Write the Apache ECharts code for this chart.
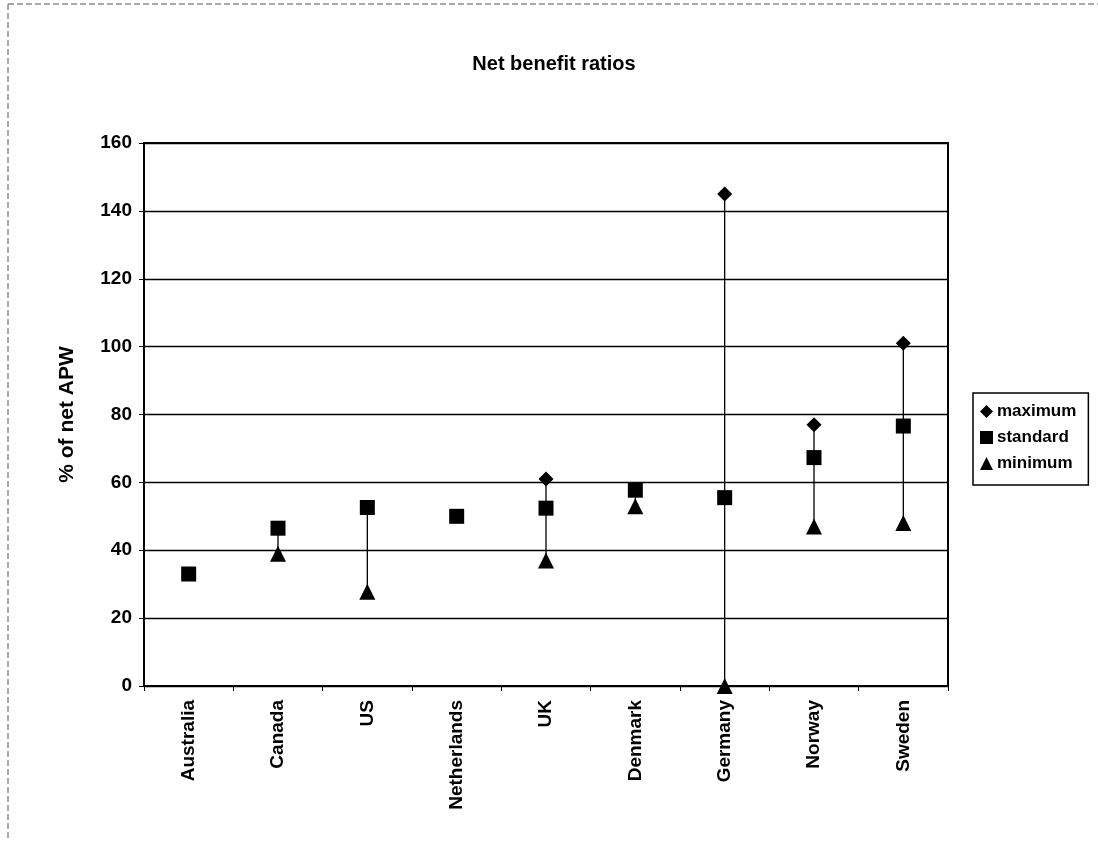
<!DOCTYPE html>
<html><head><meta charset="utf-8">
<script src="https://cdn.jsdelivr.net/npm/echarts@6/dist/echarts.min.js"></script>
<style>html,body{margin:0;padding:0;background:#fff}#c{width:1098px;height:841px}</style>
</head><body><div id="c"></div>
<script>
const categories = ['Australia','Canada','US','Netherlands','UK','Denmark','Germany','Norway','Sweden'];
const maximum  = [null, null, null, null, 61, null, 145, 77, 101];
const standard = [33, 46.5, 52.6, 50, 52.4, 57.7, 55.5, 67.3, 76.6];
const minimum  = [null, 39, 27.8, null, 37, 53, 0, 47, 48];
const yTicks = [0, 20, 40, 60, 80, 100, 120, 140, 160];

const ranges = categories.map((c, i) => {
  const vals = [maximum[i], standard[i], minimum[i]].filter(v => v !== null);
  return [i, Math.min(...vals), Math.max(...vals)];
});

const chart = echarts.init(document.getElementById('c'));
const font = 'Arial, "Liberation Sans", sans-serif';
chart.setOption({
  animation: false,
  backgroundColor: '#fff',
  title: { text: 'Net benefit ratios', left: 549, top: 49, textAlign: 'center',
    textStyle: { fontFamily: font, fontSize: 20, fontWeight: 'bold', color: '#000' } },
  grid: { left: 144, right: 150, top: 143, bottom: 155, show: true, borderColor: '#000', borderWidth: 2 },
  legend: {
    orient: 'vertical', left: 973, top: 393, itemGap: 5, itemWidth: 13, itemHeight: 13,
    borderColor: '#000', borderWidth: 1.5, padding: [8, 12, 11, 7],
    textStyle: { fontFamily: font, fontSize: 17, fontWeight: 'bold', color: '#000', lineHeight: 21, padding: [0, 0, 0, -1] },
    data: [{ name: 'maximum', icon: 'diamond' }, { name: 'standard', icon: 'rect' }, { name: 'minimum', icon: 'triangle' }]
  },
  xAxis: {
    type: 'category', data: categories, boundaryGap: true,
    axisLine: { lineStyle: { color: '#000', width: 2 } },
    axisTick: { show: true, inside: false, length: 5, lineStyle: { color: '#000' } },
    axisLabel: { rotate: 90, margin: 14, fontFamily: font, fontSize: 19, fontWeight: 'bold', color: '#000' }
  },
  yAxis: {
    type: 'value', min: 0, max: 160, interval: 20,
    name: '% of net APW', nameLocation: 'middle', nameGap: 66, nameRotate: 90,
    nameTextStyle: { fontFamily: font, fontSize: 21, fontWeight: 'bold', color: '#000' },
    axisLine: { show: true, lineStyle: { color: '#000', width: 2 } },
    axisTick: { show: true, length: 5, lineStyle: { color: '#000' } },
    axisLabel: { fontFamily: font, fontSize: 19, fontWeight: 'bold', color: '#000', margin: 12,
      formatter: v => yTicks.includes(v) ? String(v) : '' },
    splitLine: { lineStyle: { color: '#000', width: 1.3 } }
  },
  series: [
    { name: 'range', type: 'custom', silent: true, z: 1, data: ranges,
      renderItem: (params, api) => {
        const top = api.coord([api.value(0), api.value(2)]);
        const bot = api.coord([api.value(0), api.value(1)]);
        return { type: 'line', shape: { x1: top[0], y1: top[1], x2: bot[0], y2: bot[1] },
          style: { stroke: '#000', lineWidth: 1.3 } };
      } },
    { name: 'maximum', type: 'scatter', symbol: 'diamond', symbolSize: 15, z: 3,
      itemStyle: { color: '#000', opacity: 1 }, data: maximum },
    { name: 'standard', type: 'scatter', symbol: 'rect', symbolSize: 15, z: 3,
      itemStyle: { color: '#000', opacity: 1 }, data: standard },
    { name: 'minimum', type: 'scatter', symbol: 'triangle', symbolSize: 16, z: 3,
      itemStyle: { color: '#000', opacity: 1 }, data: minimum }
  ],
  graphic: [
    { type: 'line', shape: { x1: 8, y1: 4, x2: 1098, y2: 4 }, style: { stroke: '#555', lineWidth: 1, lineDash: [6, 3] } },
    { type: 'line', shape: { x1: 8, y1: 4, x2: 8, y2: 841 }, style: { stroke: '#555', lineWidth: 1, lineDash: [6, 3] } }
  ]
});
</script></body></html>
